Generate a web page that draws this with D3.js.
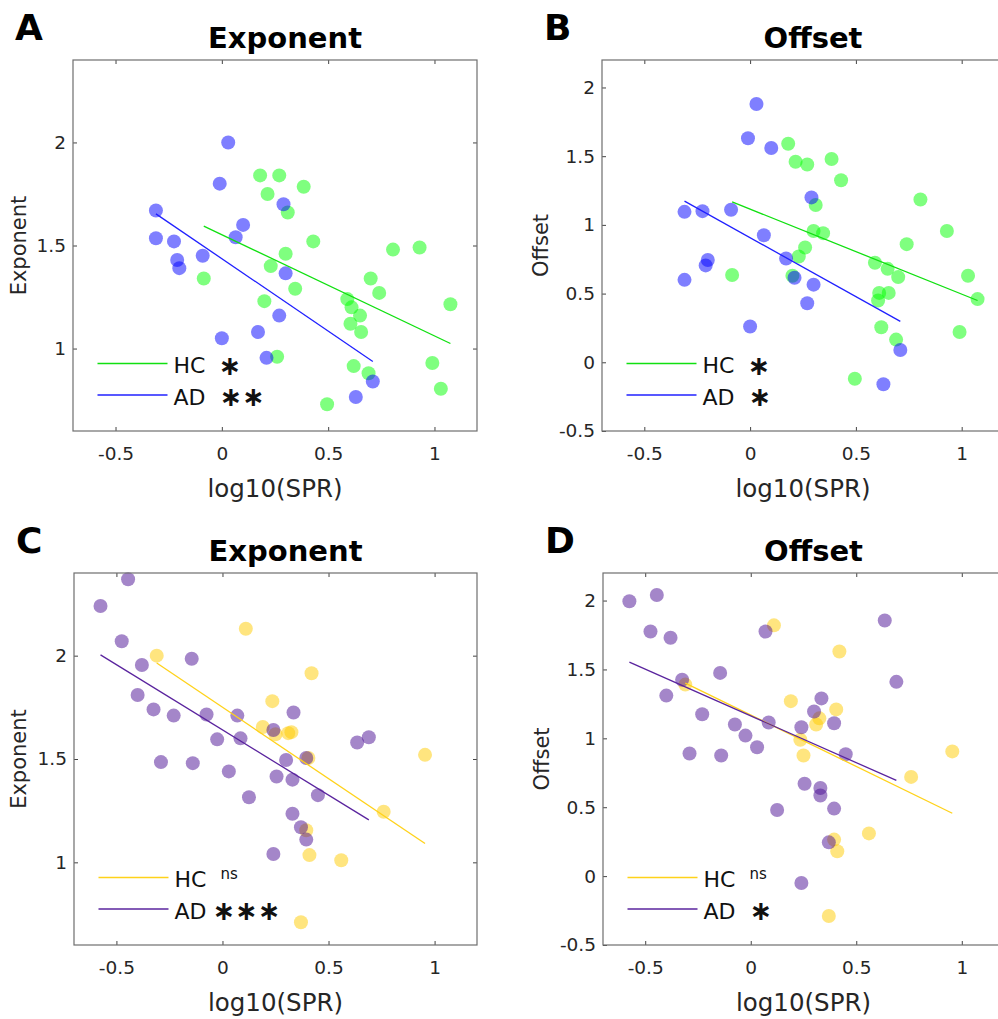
<!DOCTYPE html>
<html>
<head>
<meta charset="utf-8">
<script src="https://cdn.jsdelivr.net/npm/d3@7"></script>
<style>
  body { margin: 0; background: #fff; }
  svg { display: block; }
</style>
</head>
<body>
<div id="chart"></div>
<script>
'use strict';

// Panels A/B: log10(SPR) with fitted exponent / offset, HC and AD groups
const hcSprAB = [0.18, 0.27, 0.215, 0.385, 0.31, 0.43, 0.30, 0.23, 0.345, -0.085, 0.20, 0.26, 0.805, 0.93, 0.70, 0.74, 0.59, 0.61, 0.65, 0.605, 0.655, 1.075, 0.62, 0.69, 0.99, 1.03, 0.495];
const hcExpAB = [1.84, 1.84, 1.75, 1.785, 1.66, 1.52, 1.46, 1.40, 1.29, 1.34, 1.23, 0.96, 1.48, 1.49, 1.34, 1.27, 1.24, 1.20, 1.16, 1.12, 1.08, 1.215, 0.915, 0.88, 0.93, 0.805, 0.73];
const hcOffAB = [1.59, 1.44, 1.46, 1.48, 1.145, 1.325, 0.955, 0.77, 0.94, 0.635, 0.63, 0.835, 1.185, 0.955, 0.62, 0.86, 0.725, 0.505, 0.68, 0.45, 0.505, 0.46, 0.255, 0.165, 0.22, 0.63, -0.12];

const adSprAB = [0.03, -0.01, -0.31, -0.31, -0.225, -0.21, -0.20, -0.09, 0.10, 0.065, 0.00, 0.17, 0.21, 0.27, 0.30, 0.29, 0.71, 0.63];
const adExpAB = [2.00, 1.80, 1.67, 1.535, 1.52, 1.43, 1.39, 1.45, 1.60, 1.54, 1.05, 1.08, 0.955, 1.16, 1.365, 1.70, 0.84, 0.765];
const adOffAB = [1.88, 1.63, 1.095, 0.60, 1.10, 0.705, 0.745, 1.11, 1.56, 0.925, 0.26, 0.755, 0.615, 0.43, 0.565, 1.20, 0.09, -0.16];

// Panels C/D
const hcSprCD = [0.11, -0.31, 0.235, 0.19, 0.25, 0.31, 0.325, 0.42, 0.405, 0.955, 0.76, 0.395, 0.41, 0.56, 0.37];
const hcExpCD = [2.13, 2.00, 1.78, 1.655, 1.62, 1.625, 1.63, 1.915, 1.505, 1.52, 1.245, 1.155, 1.035, 1.01, 0.71];
const hcOffCD = [1.82, 1.39, 0.99, 1.27, 0.875, 1.10, 1.145, 1.63, 1.21, 0.905, 0.72, 0.265, 0.18, 0.31, -0.29];

const adSprCD = [-0.445, -0.575, -0.475, -0.38, -0.145, -0.40, -0.325, -0.23, -0.075, 0.07, -0.025, 0.085, -0.29, -0.14, 0.03, 0.125, 0.24, 0.255, 0.24, 0.30, 0.335, 0.395, 0.33, 0.45, 0.33, 0.37, 0.395, 0.635, 0.69];
const adExpCD = [2.37, 2.24, 2.07, 1.955, 1.985, 1.81, 1.74, 1.71, 1.715, 1.71, 1.595, 1.60, 1.485, 1.48, 1.44, 1.315, 1.64, 1.415, 1.04, 1.495, 1.725, 1.505, 1.40, 1.325, 1.235, 1.17, 1.11, 1.58, 1.605];
const adOffCD = [2.04, 1.995, 1.775, 1.73, 1.475, 1.31, 1.425, 1.175, 1.10, 1.775, 1.02, 1.115, 0.89, 0.875, 0.935, 0.48, 1.08, 0.67, -0.05, 1.195, 1.29, 1.11, 0.64, 0.885, 0.585, 0.245, 0.49, 1.855, 1.41];

const xTicks = [-0.5, 0, 0.5, 1];
const expTicks = [1, 1.5, 2];
const offTicks = [-0.5, 0, 0.5, 1, 1.5, 2];
const xDomain = [-0.7, 1.2];
const expDomain = [0.6, 2.4];
const offDomain = [-0.5, 2.2];

const width = 998;
const height = 1019;
const tickFont = 'DejaVu Sans, Verdana, sans-serif';

const svg = d3.select('#chart').append('svg').attr('width', width).attr('height', height);

// least squares line
const fit = (xs, ys) => {
  const mx = d3.mean(xs);
  const my = d3.mean(ys);
  let sxy = 0;
  let sxx = 0;
  xs.forEach((x, i) => {
    sxy += (x - mx) * (ys[i] - my);
    sxx += (x - mx) * (x - mx);
  });
  const b = sxy / sxx;
  return { a: my - b * mx, b: b };
};

const green = { dot: '#00ff00', line: '#10e010' };
const blue = { dot: '#0000ff', line: '#2020ff' };
const yellow = { dot: '#ffcc00', line: '#ffd21a' };
const purple = { dot: '#4a0d94', line: '#5a249e' };

const panels = [
  {
    letter: 'A', title: 'Exponent', ylabel: 'Exponent', left: 73, top: 60, w: 404, h: 371,
    yDomain: expDomain, yTicks: expTicks, ylabelDx: -54,
    groups: [
      { name: 'HC', x: hcSprAB, y: hcExpAB, color: green, sig: '∗', sigDx: 45 },
      { name: 'AD', x: adSprAB, y: adExpAB, color: blue, sig: '∗∗', sigDx: 46 }
    ]
  },
  {
    letter: 'B', title: 'Offset', ylabel: 'Offset', left: 602, top: 60, w: 402, h: 371,
    yDomain: offDomain, yTicks: offTicks, ylabelDx: -61,
    groups: [
      { name: 'HC', x: hcSprAB, y: hcOffAB, color: green, sig: '∗', sigDx: 45 },
      { name: 'AD', x: adSprAB, y: adOffAB, color: blue, sig: '∗', sigDx: 46 }
    ]
  },
  {
    letter: 'C', title: 'Exponent', ylabel: 'Exponent', left: 74, top: 573, w: 403, h: 372,
    yDomain: expDomain, yTicks: expTicks, ylabelDx: -55,
    groups: [
      { name: 'HC', x: hcSprCD, y: hcExpCD, color: yellow, sig: 'ns', sigDx: 46 },
      { name: 'AD', x: adSprCD, y: adExpCD, color: purple, sig: '∗∗∗', sigDx: 38 }
    ]
  },
  {
    letter: 'D', title: 'Offset', ylabel: 'Offset', left: 603, top: 573, w: 401, h: 372,
    yDomain: offDomain, yTicks: offTicks, ylabelDx: -61,
    groups: [
      { name: 'HC', x: hcSprCD, y: hcOffCD, color: yellow, sig: 'ns', sigDx: 46 },
      { name: 'AD', x: adSprCD, y: adOffCD, color: purple, sig: '∗', sigDx: 46 }
    ]
  }
];

const fmt = (d) => (d === 0 ? '0' : String(d));

panels.forEach((p) => {
  const g = svg.append('g').attr('transform', `translate(${p.left},${p.top})`);
  const x = d3.scaleLinear().domain(xDomain).range([0, p.w]);
  const y = d3.scaleLinear().domain(p.yDomain).range([p.h, 0]);

  // points
  p.groups.forEach((grp) => {
    g.append('g')
      .selectAll('circle')
      .data(grp.x.map((v, i) => [v, grp.y[i]]))
      .join('circle')
      .attr('cx', (d) => x(d[0]))
      .attr('cy', (d) => y(d[1]))
      .attr('r', 7)
      .attr('fill', grp.color.dot)
      .attr('fill-opacity', 0.5);
  });

  // regression lines
  p.groups.forEach((grp) => {
    const f = fit(grp.x, grp.y);
    const ext = d3.extent(grp.x);
    g.append('line')
      .attr('x1', x(ext[0]))
      .attr('y1', y(f.a + f.b * ext[0]))
      .attr('x2', x(ext[1]))
      .attr('y2', y(f.a + f.b * ext[1]))
      .attr('stroke', grp.color.line)
      .attr('stroke-width', 1.3);
  });

  // axes (ticks inward on all four sides)
  const styleAxis = (ax) => {
    ax.select('.domain').remove();
    ax.selectAll('line').attr('stroke', '#444');
    ax.selectAll('text').attr('fill', '#262626').attr('font-family', tickFont).attr('font-size', 18.5);
  };
  g.append('g')
    .attr('transform', `translate(0,${p.h})`)
    .call(d3.axisBottom(x).tickValues(xTicks).tickFormat(fmt).tickSize(-4).tickPadding(16))
    .call(styleAxis);
  g.append('g')
    .call(d3.axisTop(x).tickValues(xTicks).tickFormat('').tickSize(-4))
    .call(styleAxis);
  g.append('g')
    .call(d3.axisLeft(y).tickValues(p.yTicks).tickFormat(fmt).tickSize(-4).tickPadding(7))
    .call(styleAxis);
  g.append('g')
    .attr('transform', `translate(${p.w},0)`)
    .call(d3.axisRight(y).tickValues(p.yTicks).tickFormat('').tickSize(-4))
    .call(styleAxis);

  g.append('rect')
    .attr('width', p.w)
    .attr('height', p.h)
    .attr('fill', 'none')
    .attr('stroke', '#6e6e6e')
    .attr('stroke-width', 1.2);

  // legend
  p.groups.forEach((grp, i) => {
    const ly = p.h - 67.5 + i * 31.5;
    g.append('line')
      .attr('x1', 24.5)
      .attr('x2', 94.5)
      .attr('y1', ly)
      .attr('y2', ly)
      .attr('stroke', grp.color.line)
      .attr('stroke-width', 1.3);
    g.append('text')
      .attr('x', 100.5)
      .attr('y', ly + 9.5)
      .attr('font-family', tickFont)
      .attr('font-size', 22)
      .attr('fill', '#111')
      .text(grp.name);
    if (grp.sig === 'ns') {
      g.append('text')
        .attr('x', 100.5 + grp.sigDx)
        .attr('y', ly + 1)
        .attr('font-family', tickFont)
        .attr('font-size', 15)
        .attr('fill', '#111')
        .text(grp.sig);
    } else {
      g.append('text')
        .attr('x', 100.5 + grp.sigDx)
        .attr('y', ly + 11)
        .attr('font-family', tickFont)
        .attr('font-size', 27)
        .attr('font-weight', 'bold')
        .attr('fill', '#111')
        .text(grp.sig);
    }
  });

  // labels
  g.append('text')
    .attr('x', p.w / 2)
    .attr('y', p.h + 66)
    .attr('text-anchor', 'middle')
    .attr('font-family', tickFont)
    .attr('font-size', 24.5)
    .attr('fill', '#262626')
    .text('log10(SPR)');
  g.append('text')
    .attr('transform', `translate(${p.ylabelDx},${p.h / 2}) rotate(-90)`)
    .attr('text-anchor', 'middle')
    .attr('dy', '0.35em')
    .attr('font-family', tickFont)
    .attr('font-size', 21)
    .attr('fill', '#262626')
    .text(p.ylabel);
  g.append('text')
    .attr('x', p.w / 2 + 10)
    .attr('y', -12)
    .attr('text-anchor', 'middle')
    .attr('font-family', tickFont)
    .attr('font-weight', 'bold')
    .attr('font-size', 29)
    .attr('fill', '#000')
    .text(p.title);
  g.append('text')
    .attr('x', -58)
    .attr('y', -20)
    .attr('font-family', tickFont)
    .attr('font-weight', 'bold')
    .attr('font-size', 36)
    .attr('fill', '#000')
    .text(p.letter);
});
</script>
</body>
</html>
